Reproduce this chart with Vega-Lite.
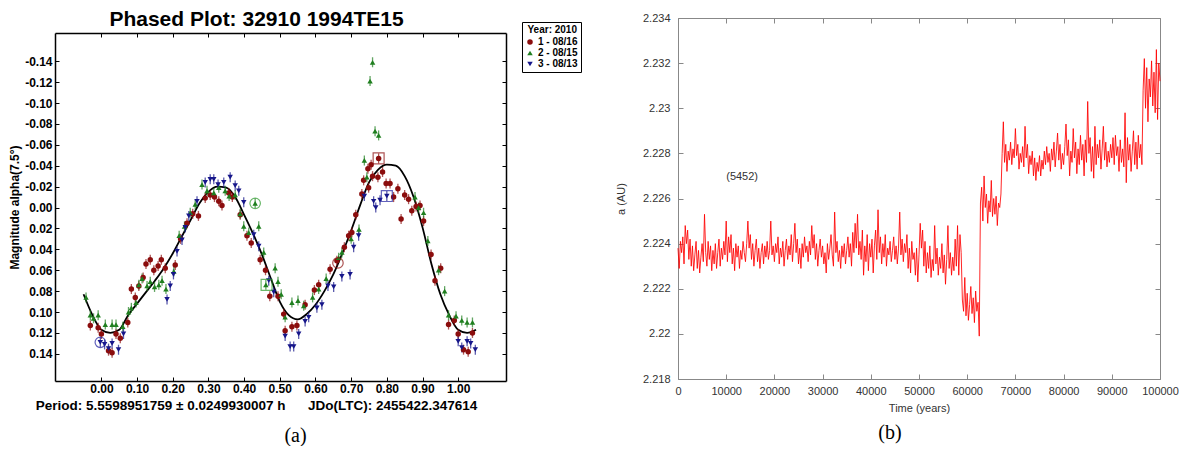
{
"$schema": "https://vega.github.io/schema/vega-lite/v6.json",
"padding": {"left": 8, "top": 8, "right": 0, "bottom": 0},
"config": {"view": {"stroke": null}, "font": "Liberation Sans"},
"spacing": 33,
"resolve": {"scale": {"color": "independent", "shape": "independent", "fill": "independent", "stroke": "independent"}, "legend": {"color": "independent", "shape": "independent"}},
"datasets": {
"curve": [
{"p":-0.05,"m":0.083},{"p":-0.025,"m":0.103},{"p":0.0,"m":0.117},{"p":0.025,"m":0.120},{"p":0.05,"m":0.117},{"p":0.075,"m":0.103},{"p":0.1,"m":0.092},{"p":0.125,"m":0.081},{"p":0.15,"m":0.070},{"p":0.175,"m":0.058},{"p":0.2,"m":0.044},{"p":0.225,"m":0.028},{"p":0.25,"m":0.012},{"p":0.275,"m":-0.004},{"p":0.3,"m":-0.015},{"p":0.325,"m":-0.020},{"p":0.35,"m":-0.019},{"p":0.375,"m":-0.010},{"p":0.4,"m":0.007},{"p":0.425,"m":0.025},{"p":0.45,"m":0.045},{"p":0.475,"m":0.068},{"p":0.5,"m":0.090},{"p":0.525,"m":0.103},{"p":0.55,"m":0.107},{"p":0.575,"m":0.102},{"p":0.6,"m":0.093},{"p":0.625,"m":0.080},{"p":0.65,"m":0.064},{"p":0.675,"m":0.044},{"p":0.7,"m":0.022},{"p":0.725,"m":-0.002},{"p":0.75,"m":-0.024},{"p":0.775,"m":-0.036},{"p":0.8,"m":-0.041},{"p":0.825,"m":-0.040},{"p":0.85,"m":-0.030},{"p":0.875,"m":-0.010},{"p":0.9,"m":0.019},{"p":0.925,"m":0.054},{"p":0.95,"m":0.083},{"p":0.975,"m":0.103},{"p":1.0,"m":0.117},{"p":1.025,"m":0.120},{"p":1.05,"m":0.117}
],
"pts": [
{"s":"1 - 08/16","p":-0.031,"m":0.113},{"s":"1 - 08/16","p":-0.009,"m":0.115},{"s":"1 - 08/16","p":0.000,"m":0.121},{"s":"1 - 08/16","p":0.020,"m":0.137},{"s":"1 - 08/16","p":0.030,"m":0.139},{"s":"1 - 08/16","p":0.041,"m":0.121},{"s":"1 - 08/16","p":0.053,"m":0.125},{"s":"1 - 08/16","p":0.074,"m":0.110},{"s":"1 - 08/16","p":0.084,"m":0.078},{"s":"1 - 08/16","p":0.095,"m":0.086},{"s":"1 - 08/16","p":0.105,"m":0.075},{"s":"1 - 08/16","p":0.117,"m":0.067},{"s":"1 - 08/16","p":0.125,"m":0.054},{"s":"1 - 08/16","p":0.137,"m":0.050},{"s":"1 - 08/16","p":0.147,"m":0.060},{"s":"1 - 08/16","p":0.159,"m":0.056},{"s":"1 - 08/16","p":0.168,"m":0.050},{"s":"1 - 08/16","p":0.179,"m":0.058},{"s":"1 - 08/16","p":0.207,"m":0.055},{"s":"1 - 08/16","p":0.222,"m":0.030},{"s":"1 - 08/16","p":0.240,"m":0.015},{"s":"1 - 08/16","p":0.256,"m":0.006},{"s":"1 - 08/16","p":0.272,"m":0.008},{"s":"1 - 08/16","p":0.291,"m":-0.009},{"s":"1 - 08/16","p":0.305,"m":-0.012},{"s":"1 - 08/16","p":0.317,"m":-0.010},{"s":"1 - 08/16","p":0.329,"m":-0.006},{"s":"1 - 08/16","p":0.338,"m":-0.002},{"s":"1 - 08/16","p":0.357,"m":-0.014},{"s":"1 - 08/16","p":0.367,"m":-0.010},{"s":"1 - 08/16","p":0.389,"m":0.007},{"s":"1 - 08/16","p":0.408,"m":0.027},{"s":"1 - 08/16","p":0.420,"m":0.034},{"s":"1 - 08/16","p":0.445,"m":0.050},{"s":"1 - 08/16","p":0.460,"m":0.060},{"s":"1 - 08/16","p":0.472,"m":0.085},{"s":"1 - 08/16","p":0.495,"m":0.085},{"s":"1 - 08/16","p":0.511,"m":0.102},{"s":"1 - 08/16","p":0.515,"m":0.118},{"s":"1 - 08/16","p":0.534,"m":0.114},{"s":"1 - 08/16","p":0.548,"m":0.113},{"s":"1 - 08/16","p":0.571,"m":0.093},{"s":"1 - 08/16","p":0.597,"m":0.079},{"s":"1 - 08/16","p":0.609,"m":0.074},{"s":"1 - 08/16","p":0.641,"m":0.059},{"s":"1 - 08/16","p":0.660,"m":0.051},{"s":"1 - 08/16","p":0.681,"m":0.038},{"s":"1 - 08/16","p":0.693,"m":0.027},{"s":"1 - 08/16","p":0.702,"m":0.024},{"s":"1 - 08/16","p":0.713,"m":0.007},{"s":"1 - 08/16","p":0.730,"m":-0.013},{"s":"1 - 08/16","p":0.735,"m":-0.026},{"s":"1 - 08/16","p":0.747,"m":-0.037},{"s":"1 - 08/16","p":0.749,"m":-0.019},{"s":"1 - 08/16","p":0.756,"m":-0.041},{"s":"1 - 08/16","p":0.760,"m":-0.030},{"s":"1 - 08/16","p":0.775,"m":-0.029},{"s":"1 - 08/16","p":0.777,"m":-0.047},{"s":"1 - 08/16","p":0.788,"m":-0.034},{"s":"1 - 08/16","p":0.798,"m":-0.023},{"s":"1 - 08/16","p":0.809,"m":-0.023},{"s":"1 - 08/16","p":0.819,"m":-0.010},{"s":"1 - 08/16","p":0.831,"m":-0.018},{"s":"1 - 08/16","p":0.840,"m":0.011},{"s":"1 - 08/16","p":0.850,"m":-0.012},{"s":"1 - 08/16","p":0.861,"m":-0.008},{"s":"1 - 08/16","p":0.870,"m":0.003},{"s":"1 - 08/16","p":0.882,"m":-0.001},{"s":"1 - 08/16","p":0.893,"m":-0.002},{"s":"1 - 08/16","p":0.903,"m":0.013},{"s":"1 - 08/16","p":0.924,"m":0.045},{"s":"1 - 08/16","p":0.935,"m":0.070},{"s":"1 - 08/16","p":0.951,"m":0.058},{"s":"1 - 08/16","p":0.973,"m":0.112},{"s":"1 - 08/16","p":0.989,"m":0.108},{"s":"1 - 08/16","p":1.000,"m":0.121},{"s":"1 - 08/16","p":1.015,"m":0.136},{"s":"1 - 08/16","p":1.028,"m":0.138},{"s":"1 - 08/16","p":1.040,"m":0.120},
{"s":"2 - 08/15","p":-0.043,"m":0.086},{"s":"2 - 08/15","p":-0.031,"m":0.103},{"s":"2 - 08/15","p":-0.022,"m":0.106},{"s":"2 - 08/15","p":-0.009,"m":0.103},{"s":"2 - 08/15","p":0.011,"m":0.112},{"s":"2 - 08/15","p":0.030,"m":0.112},{"s":"2 - 08/15","p":0.041,"m":0.112},{"s":"2 - 08/15","p":0.060,"m":0.114},{"s":"2 - 08/15","p":0.076,"m":0.100},{"s":"2 - 08/15","p":0.084,"m":0.096},{"s":"2 - 08/15","p":0.097,"m":0.091},{"s":"2 - 08/15","p":0.105,"m":0.074},{"s":"2 - 08/15","p":0.114,"m":0.068},{"s":"2 - 08/15","p":0.128,"m":0.075},{"s":"2 - 08/15","p":0.137,"m":0.071},{"s":"2 - 08/15","p":0.149,"m":0.076},{"s":"2 - 08/15","p":0.161,"m":0.074},{"s":"2 - 08/15","p":0.170,"m":0.070},{"s":"2 - 08/15","p":0.181,"m":0.078},{"s":"2 - 08/15","p":0.203,"m":0.061},{"s":"2 - 08/15","p":0.218,"m":0.027},{"s":"2 - 08/15","p":0.233,"m":0.018},{"s":"2 - 08/15","p":0.249,"m":0.005},{"s":"2 - 08/15","p":0.263,"m":-0.003},{"s":"2 - 08/15","p":0.282,"m":-0.022},{"s":"2 - 08/15","p":0.296,"m":-0.016},{"s":"2 - 08/15","p":0.315,"m":-0.014},{"s":"2 - 08/15","p":0.329,"m":-0.019},{"s":"2 - 08/15","p":0.347,"m":-0.016},{"s":"2 - 08/15","p":0.358,"m":-0.011},{"s":"2 - 08/15","p":0.375,"m":-0.012},{"s":"2 - 08/15","p":0.389,"m":0.006},{"s":"2 - 08/15","p":0.399,"m":0.018},{"s":"2 - 08/15","p":0.413,"m":0.024},{"s":"2 - 08/15","p":0.431,"m":-0.004},{"s":"2 - 08/15","p":0.441,"m":0.018},{"s":"2 - 08/15","p":0.455,"m":0.043},{"s":"2 - 08/15","p":0.461,"m":0.074},{"s":"2 - 08/15","p":0.487,"m":0.058},{"s":"2 - 08/15","p":0.495,"m":0.071},{"s":"2 - 08/15","p":0.504,"m":0.083},{"s":"2 - 08/15","p":0.515,"m":0.105},{"s":"2 - 08/15","p":0.534,"m":0.091},{"s":"2 - 08/15","p":0.551,"m":0.089},{"s":"2 - 08/15","p":0.567,"m":0.094},{"s":"2 - 08/15","p":0.592,"m":0.086},{"s":"2 - 08/15","p":0.609,"m":0.078},{"s":"2 - 08/15","p":0.630,"m":0.068},{"s":"2 - 08/15","p":0.665,"m":0.048},{"s":"2 - 08/15","p":0.674,"m":0.043},{"s":"2 - 08/15","p":0.700,"m":0.030},{"s":"2 - 08/15","p":0.722,"m":0.021},{"s":"2 - 08/15","p":0.737,"m":-0.045},{"s":"2 - 08/15","p":0.744,"m":-0.029},{"s":"2 - 08/15","p":0.753,"m":-0.121},{"s":"2 - 08/15","p":0.760,"m":-0.139},{"s":"2 - 08/15","p":0.767,"m":-0.073},{"s":"2 - 08/15","p":0.777,"m":-0.069},{"s":"2 - 08/15","p":0.879,"m":-0.010},{"s":"2 - 08/15","p":0.889,"m":0.000},{"s":"2 - 08/15","p":0.903,"m":0.005},{"s":"2 - 08/15","p":0.915,"m":0.032},{"s":"2 - 08/15","p":0.945,"m":0.060},{"s":"2 - 08/15","p":0.962,"m":0.080},{"s":"2 - 08/15","p":0.973,"m":0.103},{"s":"2 - 08/15","p":0.994,"m":0.104},{"s":"2 - 08/15","p":1.010,"m":0.108},{"s":"2 - 08/15","p":1.025,"m":0.110},{"s":"2 - 08/15","p":1.040,"m":0.110},
{"s":"3 - 08/13","p":-0.003,"m":0.129},{"s":"3 - 08/13","p":0.009,"m":0.131},{"s":"3 - 08/13","p":0.020,"m":0.135},{"s":"3 - 08/13","p":0.030,"m":0.130},{"s":"3 - 08/13","p":0.048,"m":0.136},{"s":"3 - 08/13","p":0.062,"m":0.121},{"s":"3 - 08/13","p":0.184,"m":0.088},{"s":"3 - 08/13","p":0.193,"m":0.075},{"s":"3 - 08/13","p":0.202,"m":0.064},{"s":"3 - 08/13","p":0.212,"m":0.042},{"s":"3 - 08/13","p":0.226,"m":0.031},{"s":"3 - 08/13","p":0.235,"m":0.019},{"s":"3 - 08/13","p":0.245,"m":0.008},{"s":"3 - 08/13","p":0.268,"m":-0.006},{"s":"3 - 08/13","p":0.291,"m":-0.024},{"s":"3 - 08/13","p":0.305,"m":-0.027},{"s":"3 - 08/13","p":0.315,"m":-0.027},{"s":"3 - 08/13","p":0.327,"m":-0.022},{"s":"3 - 08/13","p":0.343,"m":-0.024},{"s":"3 - 08/13","p":0.361,"m":-0.029},{"s":"3 - 08/13","p":0.375,"m":-0.021},{"s":"3 - 08/13","p":0.385,"m":-0.016},{"s":"3 - 08/13","p":0.399,"m":-0.005},{"s":"3 - 08/13","p":0.427,"m":0.026},{"s":"3 - 08/13","p":0.441,"m":0.037},{"s":"3 - 08/13","p":0.469,"m":0.070},{"s":"3 - 08/13","p":0.483,"m":0.081},{"s":"3 - 08/13","p":0.515,"m":0.123},{"s":"3 - 08/13","p":0.529,"m":0.133},{"s":"3 - 08/13","p":0.539,"m":0.133},{"s":"3 - 08/13","p":0.553,"m":0.121},{"s":"3 - 08/13","p":0.571,"m":0.109},{"s":"3 - 08/13","p":0.581,"m":0.105},{"s":"3 - 08/13","p":0.604,"m":0.096},{"s":"3 - 08/13","p":0.618,"m":0.093},{"s":"3 - 08/13","p":0.635,"m":0.075},{"s":"3 - 08/13","p":0.651,"m":0.076},{"s":"3 - 08/13","p":0.674,"m":0.066},{"s":"3 - 08/13","p":0.697,"m":0.064},{"s":"3 - 08/13","p":0.707,"m":0.038},{"s":"3 - 08/13","p":0.721,"m":0.027},{"s":"3 - 08/13","p":0.737,"m":-0.011},{"s":"3 - 08/13","p":0.763,"m":-0.006},{"s":"3 - 08/13","p":0.769,"m":0.000},{"s":"3 - 08/13","p":0.781,"m":-0.007},{"s":"3 - 08/13","p":0.800,"m":-0.011},{"s":"3 - 08/13","p":1.000,"m":0.128},{"s":"3 - 08/13","p":1.010,"m":0.134},{"s":"3 - 08/13","p":1.025,"m":0.128},{"s":"3 - 08/13","p":1.035,"m":0.130},{"s":"3 - 08/13","p":1.048,"m":0.136}
],
"circ": [{"s":"3 - 08/13","p":-0.003,"m":0.129},{"s":"2 - 08/15","p":0.431,"m":-0.004},{"s":"1 - 08/16","p":0.663,"m":0.053}],
"sq": [{"s":"2 - 08/15","p":0.463,"m":0.074},{"s":"1 - 08/16","p":0.777,"m":-0.047},{"s":"3 - 08/13","p":0.800,"m":-0.011}],
"orbit": [
{"t":0,"a":2.2238},{"t":250,"a":2.2229},{"t":500,"a":2.2241},{"t":750,"a":2.2236},{"t":1000,"a":2.2243},{"t":1250,"a":2.2231},{"t":1500,"a":2.2248},{"t":1750,"a":2.2240},{"t":2000,"a":2.2246},{"t":2250,"a":2.2233},{"t":2500,"a":2.2242},{"t":2750,"a":2.2230},{"t":3000,"a":2.2239},{"t":3250,"a":2.2228},{"t":3500,"a":2.2235},{"t":3750,"a":2.2241},{"t":4000,"a":2.2229},{"t":4250,"a":2.2237},{"t":4500,"a":2.2227},{"t":4750,"a":2.2234},
{"t":5000,"a":2.2240},{"t":5250,"a":2.2232},{"t":5500,"a":2.2253},{"t":5750,"a":2.2236},{"t":6000,"a":2.2230},{"t":6250,"a":2.2241},{"t":6500,"a":2.2233},{"t":6750,"a":2.2239},{"t":7000,"a":2.2228},{"t":7250,"a":2.2237},{"t":7500,"a":2.2231},{"t":7750,"a":2.2240},{"t":8000,"a":2.2229},{"t":8250,"a":2.2236},{"t":8500,"a":2.2242},{"t":8750,"a":2.2230},{"t":9000,"a":2.2238},{"t":9250,"a":2.2233},{"t":9500,"a":2.2241},{"t":9750,"a":2.2235},
{"t":10000,"a":2.2250},{"t":10250,"a":2.2232},{"t":10500,"a":2.2243},{"t":10750,"a":2.2236},{"t":11000,"a":2.2244},{"t":11250,"a":2.2231},{"t":11500,"a":2.2238},{"t":11750,"a":2.2228},{"t":12000,"a":2.2240},{"t":12250,"a":2.2234},{"t":12500,"a":2.2239},{"t":12750,"a":2.2229},{"t":13000,"a":2.2237},{"t":13250,"a":2.2233},{"t":13500,"a":2.2241},{"t":13750,"a":2.2236},{"t":14000,"a":2.2232},{"t":14250,"a":2.2240},{"t":14500,"a":2.2250},{"t":14750,"a":2.2238},
{"t":15000,"a":2.2244},{"t":15250,"a":2.2233},{"t":15500,"a":2.2240},{"t":15750,"a":2.2230},{"t":16000,"a":2.2237},{"t":16250,"a":2.2242},{"t":16500,"a":2.2232},{"t":16750,"a":2.2238},{"t":17000,"a":2.2229},{"t":17250,"a":2.2236},{"t":17500,"a":2.2240},{"t":17750,"a":2.2231},{"t":18000,"a":2.2239},{"t":18250,"a":2.2234},{"t":18500,"a":2.2241},{"t":18750,"a":2.2233},{"t":19000,"a":2.2237},{"t":19250,"a":2.2250},{"t":19500,"a":2.2235},{"t":19750,"a":2.2239},
{"t":20000,"a":2.2232},{"t":20250,"a":2.2240},{"t":20500,"a":2.2236},{"t":20750,"a":2.2243},{"t":21000,"a":2.2231},{"t":21250,"a":2.2238},{"t":21500,"a":2.2234},{"t":21750,"a":2.2241},{"t":22000,"a":2.2230},{"t":22250,"a":2.2237},{"t":22500,"a":2.2242},{"t":22750,"a":2.2233},{"t":23000,"a":2.2239},{"t":23250,"a":2.2235},{"t":23500,"a":2.2244},{"t":23750,"a":2.2232},{"t":24000,"a":2.2240},{"t":24250,"a":2.2249},{"t":24500,"a":2.2236},{"t":24750,"a":2.2242},
{"t":25000,"a":2.2231},{"t":25250,"a":2.2238},{"t":25500,"a":2.2229},{"t":25750,"a":2.2240},{"t":26000,"a":2.2234},{"t":26250,"a":2.2243},{"t":26500,"a":2.2236},{"t":26750,"a":2.2239},{"t":27000,"a":2.2232},{"t":27250,"a":2.2241},{"t":27500,"a":2.2235},{"t":27750,"a":2.2248},{"t":28000,"a":2.2238},{"t":28250,"a":2.2244},{"t":28500,"a":2.2233},{"t":28750,"a":2.2240},{"t":29000,"a":2.2230},{"t":29250,"a":2.2237},{"t":29500,"a":2.2242},{"t":29750,"a":2.2234},
{"t":30000,"a":2.2239},{"t":30250,"a":2.2231},{"t":30500,"a":2.2236},{"t":30750,"a":2.2227},{"t":31000,"a":2.2240},{"t":31250,"a":2.2233},{"t":31500,"a":2.2238},{"t":31750,"a":2.2244},{"t":32000,"a":2.2235},{"t":32250,"a":2.2230},{"t":32500,"a":2.2254},{"t":32750,"a":2.2236},{"t":33000,"a":2.2241},{"t":33250,"a":2.2232},{"t":33500,"a":2.2237},{"t":33750,"a":2.2229},{"t":34000,"a":2.2239},{"t":34250,"a":2.2234},{"t":34500,"a":2.2240},{"t":34750,"a":2.2231},
{"t":35000,"a":2.2237},{"t":35250,"a":2.2243},{"t":35500,"a":2.2234},{"t":35750,"a":2.2240},{"t":36000,"a":2.2230},{"t":36250,"a":2.2245},{"t":36500,"a":2.2236},{"t":36750,"a":2.2249},{"t":37000,"a":2.2238},{"t":37250,"a":2.2253},{"t":37500,"a":2.2235},{"t":37750,"a":2.2241},{"t":38000,"a":2.2233},{"t":38250,"a":2.2246},{"t":38500,"a":2.2226},{"t":38750,"a":2.2239},{"t":39000,"a":2.2232},{"t":39250,"a":2.2244},{"t":39500,"a":2.2228},{"t":39750,"a":2.2240},
{"t":40000,"a":2.2234},{"t":40250,"a":2.2242},{"t":40500,"a":2.2227},{"t":40750,"a":2.2239},{"t":41000,"a":2.2246},{"t":41250,"a":2.2233},{"t":41500,"a":2.2255},{"t":41750,"a":2.2236},{"t":42000,"a":2.2243},{"t":42250,"a":2.2231},{"t":42500,"a":2.2240},{"t":42750,"a":2.2234},{"t":43000,"a":2.2244},{"t":43250,"a":2.2230},{"t":43500,"a":2.2238},{"t":43750,"a":2.2235},{"t":44000,"a":2.2241},{"t":44250,"a":2.2232},{"t":44500,"a":2.2237},{"t":44750,"a":2.2243},
{"t":45000,"a":2.2233},{"t":45250,"a":2.2239},{"t":45500,"a":2.2231},{"t":45750,"a":2.2238},{"t":46000,"a":2.2254},{"t":46250,"a":2.2235},{"t":46500,"a":2.2242},{"t":46750,"a":2.2232},{"t":47000,"a":2.2240},{"t":47250,"a":2.2236},{"t":47500,"a":2.2244},{"t":47750,"a":2.2229},{"t":48000,"a":2.2238},{"t":48250,"a":2.2227},{"t":48500,"a":2.2241},{"t":48750,"a":2.2233},{"t":49000,"a":2.2236},{"t":49250,"a":2.2226},{"t":49500,"a":2.2238},{"t":49750,"a":2.2223},
{"t":50000,"a":2.2235},{"t":50250,"a":2.2249},{"t":50500,"a":2.2238},{"t":50750,"a":2.2246},{"t":51000,"a":2.2230},{"t":51250,"a":2.2241},{"t":51500,"a":2.2227},{"t":51750,"a":2.2236},{"t":52000,"a":2.2229},{"t":52250,"a":2.2239},{"t":52500,"a":2.2225},{"t":52750,"a":2.2233},{"t":53000,"a":2.2228},{"t":53250,"a":2.2248},{"t":53500,"a":2.2231},{"t":53750,"a":2.2238},{"t":54000,"a":2.2226},{"t":54250,"a":2.2234},{"t":54500,"a":2.2229},{"t":54750,"a":2.2240},
{"t":55000,"a":2.2227},{"t":55250,"a":2.2235},{"t":55500,"a":2.2222},{"t":55750,"a":2.2233},{"t":56000,"a":2.2248},{"t":56250,"a":2.2229},{"t":56500,"a":2.2236},{"t":56750,"a":2.2226},{"t":57000,"a":2.2234},{"t":57250,"a":2.2228},{"t":57500,"a":2.2242},{"t":57750,"a":2.2230},{"t":58000,"a":2.2248},{"t":58250,"a":2.2226},{"t":58500,"a":2.2244},{"t":58750,"a":2.2236},
{"t":59000,"a":2.2215},{"t":59250,"a":2.2210},{"t":59500,"a":2.2225},{"t":59750,"a":2.2208},{"t":60000,"a":2.2218},{"t":60250,"a":2.2206},{"t":60500,"a":2.2213},{"t":60750,"a":2.2221},{"t":61000,"a":2.2209},{"t":61250,"a":2.2216},{"t":61500,"a":2.2205},{"t":61750,"a":2.2219},{"t":62000,"a":2.2210},{"t":62250,"a":2.2214},{"t":62500,"a":2.2199},
{"t":62750,"a":2.2258},{"t":63000,"a":2.2265},{"t":63250,"a":2.2250},{"t":63500,"a":2.2270},{"t":63750,"a":2.2256},{"t":64000,"a":2.2262},{"t":64250,"a":2.2249},{"t":64500,"a":2.2259},{"t":64750,"a":2.2254},{"t":65000,"a":2.2268},{"t":65250,"a":2.2252},{"t":65500,"a":2.2260},{"t":65750,"a":2.2253},{"t":66000,"a":2.2261},{"t":66250,"a":2.2248},{"t":66500,"a":2.2258},{"t":66750,"a":2.2256},{"t":67000,"a":2.2262},
{"t":67250,"a":2.2280},{"t":67500,"a":2.2294},{"t":67750,"a":2.2276},{"t":68000,"a":2.2284},{"t":68250,"a":2.2272},{"t":68500,"a":2.2281},{"t":68750,"a":2.2277},{"t":69000,"a":2.2285},{"t":69250,"a":2.2275},{"t":69500,"a":2.2282},{"t":69750,"a":2.2278},{"t":70000,"a":2.2291},{"t":70250,"a":2.2279},{"t":70500,"a":2.2284},{"t":70750,"a":2.2273},{"t":71000,"a":2.2280},{"t":71250,"a":2.2276},{"t":71500,"a":2.2283},{"t":71750,"a":2.2274},{"t":72000,"a":2.2292},{"t":72250,"a":2.2278},{"t":72500,"a":2.2284},{"t":72750,"a":2.2271},{"t":73000,"a":2.2279},{"t":73250,"a":2.2275},{"t":73500,"a":2.2281},{"t":73750,"a":2.2270},{"t":74000,"a":2.2278},{"t":74250,"a":2.2268},{"t":74500,"a":2.2276},{"t":74750,"a":2.2272},{"t":75000,"a":2.2279},{"t":75250,"a":2.2270},{"t":75500,"a":2.2277},{"t":75750,"a":2.2273},{"t":76000,"a":2.2281},{"t":76250,"a":2.2275},{"t":76500,"a":2.2283},{"t":76750,"a":2.2276},{"t":77000,"a":2.2280},{"t":77250,"a":2.2272},{"t":77500,"a":2.2282},{"t":77750,"a":2.2277},{"t":78000,"a":2.2285},{"t":78250,"a":2.2274},{"t":78500,"a":2.2281},{"t":78750,"a":2.2289},{"t":79000,"a":2.2277},{"t":79250,"a":2.2284},{"t":79500,"a":2.2273},{"t":79750,"a":2.2280},{"t":80000,"a":2.2275},{"t":80250,"a":2.2283},{"t":80500,"a":2.2293},{"t":80750,"a":2.2279},{"t":81000,"a":2.2286},{"t":81250,"a":2.2270},{"t":81500,"a":2.2281},{"t":81750,"a":2.2276},{"t":82000,"a":2.2291},{"t":82250,"a":2.2278},{"t":82500,"a":2.2285},{"t":82750,"a":2.2271},{"t":83000,"a":2.2282},{"t":83250,"a":2.2275},{"t":83500,"a":2.2288},{"t":83750,"a":2.2277},{"t":84000,"a":2.2284},{"t":84250,"a":2.2270},{"t":84500,"a":2.2286},{"t":84750,"a":2.2276},{"t":85000,"a":2.2303},{"t":85250,"a":2.2280},{"t":85500,"a":2.2287},{"t":85750,"a":2.2272},{"t":86000,"a":2.2283},{"t":86250,"a":2.2269},{"t":86500,"a":2.2292},{"t":86750,"a":2.2275},{"t":87000,"a":2.2284},{"t":87250,"a":2.2278},{"t":87500,"a":2.2286},{"t":87750,"a":2.2273},{"t":88000,"a":2.2282},{"t":88250,"a":2.2292},{"t":88500,"a":2.2277},{"t":88750,"a":2.2285},{"t":89000,"a":2.2274},{"t":89250,"a":2.2281},{"t":89500,"a":2.2276},{"t":89750,"a":2.2284},{"t":90000,"a":2.2278},{"t":90250,"a":2.2287},{"t":90500,"a":2.2275},{"t":90750,"a":2.2288},{"t":91000,"a":2.2279},{"t":91250,"a":2.2283},{"t":91500,"a":2.2272},{"t":91750,"a":2.2286},{"t":92000,"a":2.2276},{"t":92250,"a":2.2282},{"t":92500,"a":2.2274},{"t":92750,"a":2.2298},{"t":93000,"a":2.2267},{"t":93250,"a":2.2287},{"t":93500,"a":2.2277},{"t":93750,"a":2.2284},{"t":94000,"a":2.2272},{"t":94250,"a":2.2281},{"t":94500,"a":2.2290},{"t":94750,"a":2.2275},{"t":95000,"a":2.2285},{"t":95250,"a":2.2273},{"t":95500,"a":2.2288},{"t":95750,"a":2.2278},{"t":96000,"a":2.2284},{"t":96250,"a":2.2275},
{"t":96500,"a":2.2308},{"t":96750,"a":2.2322},{"t":97000,"a":2.2300},{"t":97250,"a":2.2318},{"t":97500,"a":2.2294},{"t":97750,"a":2.2313},{"t":98000,"a":2.2305},{"t":98250,"a":2.2321},{"t":98500,"a":2.2301},{"t":98750,"a":2.2316},{"t":99000,"a":2.2298},{"t":99250,"a":2.2326},{"t":99500,"a":2.2295},{"t":99750,"a":2.2320},{"t":100000,"a":2.2312}
]
},
"hconcat": [
{
"width": 451, "height": 363,
"title": {"text": "(a)", "orient": "bottom", "font": "Liberation Serif", "fontSize": 20, "fontWeight": "normal", "color": "black", "dx": 15, "offset": 14},
"resolve": {"axis": {"x": "independent", "y": "independent"}},
"layer": [
{
"data": {"name": "curve"},
"mark": {"type": "line", "color": "black", "strokeWidth": 1.8, "interpolate": "monotone"},
"encoding": {
"x": {"field": "p", "type": "quantitative", "scale": {"domain": [-0.13, 1.134], "nice": false, "zero": false},
"axis": {"orient": "bottom", "values": [0,0.1,0.2,0.3,0.4,0.5,0.6,0.7,0.8,0.9,1.0], "format": ".2f", "labelOverlap": false, "grid": false, "domainColor": "black", "domainWidth": 1.5, "tickColor": "black", "tickSize": -4, "labelPadding": 6, "labelFont": "Liberation Sans", "labelFontWeight": "bold", "labelFontSize": 12, "labelColor": "black",
"title": "Period: 5.5598951759 ± 0.0249930007 h\u00a0\u00a0\u00a0\u00a0\u00a0\u00a0JDo(LTC): 2455422.347614", "titleFont": "Liberation Sans", "titleFontWeight": "bold", "titleFontSize": 13.5, "titleColor": "black", "titlePadding": 4, "titleX": 201}},
"y": {"field": "m", "type": "quantitative", "scale": {"domain": [-0.167, 0.166], "range": [15, 363], "nice": false, "zero": false},
"axis": {"orient": "left", "values": [-0.14,-0.12,-0.1,-0.08,-0.06,-0.04,-0.02,0,0.02,0.04,0.06,0.08,0.1,0.12,0.14], "labelExpr": "(datum.value < -0.0001 ? '-' : '') + format(abs(datum.value), '.2f')", "labelOverlap": false, "grid": false, "domainColor": "black", "domainWidth": 1.5, "tickColor": "black", "tickSize": -4, "labelPadding": 7, "labelFont": "Liberation Sans", "labelFontWeight": "bold", "labelFontSize": 12, "labelColor": "black",
"title": "Magnitude alpha(7.5°)", "titleFont": "Liberation Sans", "titleFontWeight": "bold", "titleFontSize": 12, "titleColor": "black", "titlePadding": 3, "titleY": 189}}
}
},
{
"data": {"name": "pts"},
"mark": {"type": "tick", "orient": "vertical", "size": 10, "thickness": 1.3, "opacity": 0.7},
"encoding": {
"x": {"field": "p", "type": "quantitative", "scale": {"domain": [-0.13, 1.134], "nice": false, "zero": false},
"axis": {"orient": "top", "offset": -15, "values": [0,0.1,0.2,0.3,0.4,0.5,0.6,0.7,0.8,0.9,1.0], "labels": false, "grid": false, "domainColor": "black", "domainWidth": 1.5, "tickColor": "black", "tickSize": -4,
"title": "Phased Plot: 32910 1994TE15", "titleFont": "Liberation Sans", "titleFontWeight": "bold", "titleFontSize": 21, "titleColor": "black", "titlePadding": 3, "titleX": 201}},
"y": {"field": "m", "type": "quantitative", "scale": {"domain": [-0.167, 0.166], "range": [15, 363], "nice": false, "zero": false},
"axis": {"orient": "right", "values": [-0.14,-0.12,-0.1,-0.08,-0.06,-0.04,-0.02,0,0.02,0.04,0.06,0.08,0.1,0.12,0.14], "labels": false, "grid": false, "domainColor": "black", "domainWidth": 1.5, "tickColor": "black", "tickSize": -4, "title": null}},
"fill": {"field": "s", "type": "nominal", "scale": {"domain": ["3 - 08/13", "2 - 08/15", "1 - 08/16"], "range": ["#16168a", "#1f7f1f", "#8b0d0d"]}, "legend": null}
}
},
{
"data": {"name": "pts"},
"mark": {"type": "point", "filled": true, "opacity": 1, "size": 30},
"encoding": {
"x": {"field": "p", "type": "quantitative", "axis": null},
"y": {"field": "m", "type": "quantitative", "axis": null},
"color": {"field": "s", "type": "nominal", "title": "Year: 2010", "scale": {"domain": ["1 - 08/16", "2 - 08/15", "3 - 08/13"], "range": ["#8b0d0d", "#1f7f1f", "#16168a"]},
"legend": {"orient": "none", "legendX": 467, "legendY": 4, "title": "Year: 2010", "titleFont": "Liberation Sans", "titleFontSize": 10, "titleFontWeight": "bold", "titleColor": "black", "titleAnchor": "end", "titlePadding": 2, "labelFont": "Liberation Sans", "labelFontSize": 10, "labelFontWeight": "bold", "labelColor": "black", "labelOffset": 3, "strokeColor": "black", "fillColor": "white", "padding": 3, "rowPadding": 1, "symbolSize": 30}},
"shape": {"field": "s", "type": "nominal", "title": "Year: 2010", "scale": {"domain": ["1 - 08/16", "2 - 08/15", "3 - 08/13"], "range": ["circle", "triangle-up", "triangle-down"]},
"legend": {"orient": "none", "legendX": 467, "legendY": 4, "title": "Year: 2010", "titleFont": "Liberation Sans", "titleFontSize": 10, "titleFontWeight": "bold", "titleColor": "black", "titleAnchor": "end", "titlePadding": 2, "labelFont": "Liberation Sans", "labelFontSize": 10, "labelFontWeight": "bold", "labelColor": "black", "labelOffset": 3, "strokeColor": "black", "fillColor": "white", "padding": 3, "rowPadding": 1, "symbolSize": 30}}
}
},
{
"data": {"name": "circ"},
"mark": {"type": "point", "shape": "circle", "filled": false, "size": 110, "strokeWidth": 1.2},
"encoding": {
"x": {"field": "p", "type": "quantitative", "axis": null},
"y": {"field": "m", "type": "quantitative", "axis": null},
"stroke": {"field": "s", "type": "nominal", "scale": {"domain": ["3 - 08/13", "2 - 08/15", "1 - 08/16"], "range": ["#2020a0", "#2a9a2a", "#8b0d0d"]}, "legend": null}
}
},
{
"data": {"name": "sq"},
"mark": {"type": "point", "shape": "square", "filled": false, "size": 120, "strokeWidth": 1.2},
"encoding": {
"x": {"field": "p", "type": "quantitative", "axis": null},
"y": {"field": "m", "type": "quantitative", "axis": null},
"stroke": {"field": "s", "type": "nominal", "legend": null}
}
}
]
},
{
"width": 482, "height": 361,
"title": {"text": "(b)", "orient": "bottom", "font": "Liberation Serif", "fontSize": 20, "fontWeight": "normal", "color": "black", "dx": -29, "offset": 10},
"resolve": {"axis": {"x": "independent", "y": "independent"}},
"layer": [
{
"data": {"name": "orbit"},
"mark": {"type": "line", "color": "#ff0000", "strokeWidth": 0.85},
"encoding": {
"x": {"field": "t", "type": "quantitative", "scale": {"domain": [0, 100000], "nice": false, "zero": false},
"axis": {"orient": "bottom", "values": [0,10000,20000,30000,40000,50000,60000,70000,80000,90000,100000], "format": "d", "labelOverlap": false, "labelFlush": false, "grid": false, "domainColor": "#888888", "tickColor": "#888888", "tickSize": -5, "labelPadding": 11, "labelFont": "Liberation Sans", "labelFontSize": 11, "labelColor": "#333333",
"title": "Time (years)", "titleFont": "Liberation Sans", "titleFontWeight": "normal", "titleFontSize": 11, "titleColor": "#333333", "titlePadding": 6}},
"y": {"field": "a", "type": "quantitative", "scale": {"domain": [2.218, 2.234], "nice": false, "zero": false},
"axis": {"orient": "left", "values": [2.218,2.22,2.222,2.224,2.226,2.228,2.23,2.232,2.234], "format": ".4~f", "labelOverlap": false, "labelFlush": false, "grid": false, "domainColor": "#888888", "tickColor": "#888888", "tickSize": -5, "labelPadding": 13, "labelFont": "Liberation Sans", "labelFontSize": 11, "labelColor": "#333333",
"title": "a (AU)", "titleFont": "Liberation Sans", "titleFontWeight": "normal", "titleFontSize": 11, "titleColor": "#333333", "titlePadding": 16}}
}
},
{
"data": {"values": [{"t": 13300, "a": 2.22695, "label": "(5452)"}]},
"mark": {"type": "text", "font": "Liberation Sans", "fontSize": 11, "color": "#333333"},
"encoding": {
"x": {"field": "t", "type": "quantitative", "scale": {"domain": [0, 100000], "nice": false, "zero": false},
"axis": {"orient": "top", "values": [0,10000,20000,30000,40000,50000,60000,70000,80000,90000,100000], "labels": false, "grid": false, "domainColor": "#888888", "tickColor": "#888888", "tickSize": -5, "title": null}},
"y": {"field": "a", "type": "quantitative", "scale": {"domain": [2.218, 2.234], "nice": false, "zero": false},
"axis": {"orient": "right", "values": [2.218,2.22,2.222,2.224,2.226,2.228,2.23,2.232,2.234], "labels": false, "grid": false, "domainColor": "#888888", "tickColor": "#888888", "tickSize": -5, "title": null}},
"text": {"field": "label", "type": "nominal"}
}
}
]
}
]
}
